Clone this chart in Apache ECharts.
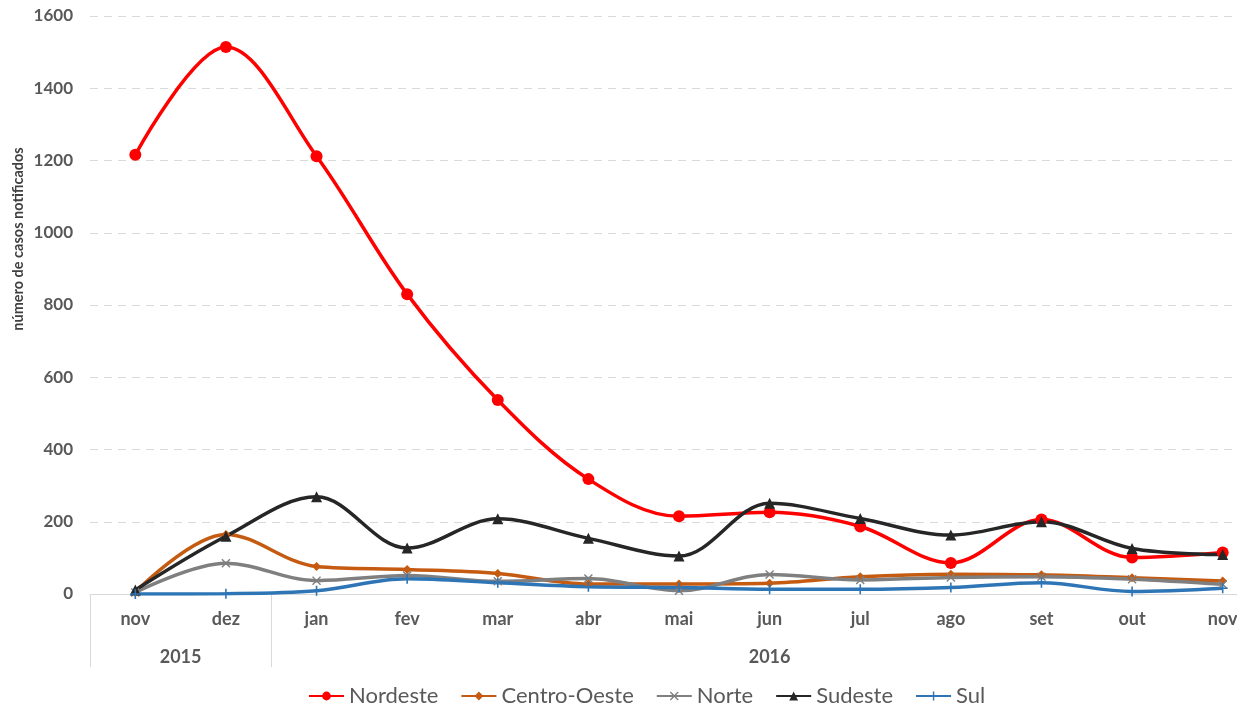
<!DOCTYPE html>
<html>
<head>
<meta charset="utf-8">
<script src="https://cdn.jsdelivr.net/npm/echarts@6/dist/echarts.min.js"></script>
<style>
  html, body { margin: 0; padding: 0; background: #ffffff; }
  #chart { width: 1237px; height: 705px; }
</style>
</head>
<body>
<div id="chart"></div>
<script>
  // meses notificados (nov/2015 a nov/2016)
  const months = ['nov', 'dez', 'jan', 'fev', 'mar', 'abr', 'mai', 'jun', 'jul', 'ago', 'set', 'out', 'nov']
  const years = ['2015', '2016']
  const monthsPerYear = [2, 11]

  const nordeste = [1216, 1514, 1212, 830, 537, 318, 215, 226, 187, 86, 206, 101, 115]
  const centroOeste = [5, 165, 76, 68, 57, 28, 28, 30, 48, 55, 53, 45, 36]
  const norte = [4, 85, 37, 51, 35, 43, 9, 54, 39, 46, 48, 41, 27]
  const sudeste = [11, 160, 269, 127, 208, 154, 105, 251, 209, 163, 200, 126, 109]
  const sul = [0, 1, 9, 42, 31, 20, 18, 13, 13, 18, 31, 7, 16]

  const yTicks = { min: 0, max: 1600, interval: 200 }

  // eixo de anos: meia-divisao por ponto, rotulo no centro de cada ano
  const yearAxisData = new Array(months.length * 2 + 1).fill('')
  const yearBoundaries = [0]
  let start = 0
  years.forEach((y, i) => {
    const end = start + monthsPerYear[i] * 2
    yearAxisData[(start + end) / 2] = y
    yearBoundaries.push(end)
    start = end
  })

  const textColor = '#595959'
  const gridColor = '#d9d9d9'
  const font = 'Lato, "Open Sans", sans-serif'

  const crossPath = 'path://M4.2,0H5.8V4.2H10V5.8H5.8V10H4.2V5.8H0V4.2H4.2Z'
  const xPath = 'path://M1.1,0L5,3.9L8.9,0L10,1.1L6.1,5L10,8.9L8.9,10L5,6.1L1.1,10L0,8.9L3.9,5L0,1.1Z'

  function makeSeries(name, data, color, symbol, symbolSize) {
    return {
      name,
      type: 'line',
      data,
      smooth: 0.35,
      symbol,
      symbolSize,
      showSymbol: true,
      lineStyle: { color, width: 3.5 },
      itemStyle: { color, borderColor: color, borderWidth: 0 },
      emphasis: { disabled: true }
    }
  }

  const chart = echarts.init(document.getElementById('chart'))

  chart.setOption({
    animation: false,
    textStyle: { fontFamily: font },
    grid: { left: 90, top: 16, bottom: 111, right: -31, outerBoundsMode: 'none' },
    legend: {
      bottom: -7,
      left: 303,
      itemWidth: 35,
      itemHeight: 11,
      itemGap: 22,
      textStyle: { color: textColor, fontSize: 22, fontFamily: font },
      data: ['Nordeste', 'Centro-Oeste', 'Norte', 'Sudeste', 'Sul']
    },
    graphic: [{
      type: 'text',
      x: 18,
      y: 239,
      rotation: Math.PI / 2,
      style: {
        text: 'número de casos notificados',
        fill: '#404040',
        font: 'bold 14.5px ' + font,
        align: 'center',
        verticalAlign: 'middle'
      }
    }],
    xAxis: [
      {
        type: 'category',
        data: months,
        boundaryGap: true,
        axisLine: { lineStyle: { color: gridColor, width: 1 } },
        axisTick: { show: false },
        axisLabel: { color: textColor, fontSize: 18, fontWeight: 'bold', margin: 16, interval: 0 },
        splitLine: { show: false }
      },
      {
        type: 'category',
        data: yearAxisData,
        boundaryGap: false,
        position: 'bottom',
        offset: 0,
        axisLine: { show: false },
        axisTick: {
          show: true,
          length: 73,
          interval: (i) => yearBoundaries.includes(i),
          lineStyle: { color: gridColor, width: 1 }
        },
        axisLabel: { color: textColor, fontSize: 18, fontWeight: 'bold', margin: 54, interval: 0 },
        splitLine: { show: false }
      }
    ],
    yAxis: {
      type: 'value',
      min: yTicks.min,
      max: yTicks.max,
      interval: yTicks.interval,
      axisLine: { show: false },
      axisTick: { show: false },
      axisLabel: { color: textColor, fontSize: 17, fontWeight: 'bold', margin: 17, formatter: (v) => String(v) },
      splitLine: { lineStyle: { color: gridColor, type: [8, 6], width: 1 } }
    },
    series: [
      makeSeries('Nordeste', nordeste, '#ff0000', 'circle', 12),
      makeSeries('Centro-Oeste', centroOeste, '#c55a11', 'diamond', 9),
      makeSeries('Norte', norte, '#7f7f7f', xPath, 9),
      makeSeries('Sudeste', sudeste, '#262626', 'triangle', 11),
      makeSeries('Sul', sul, '#2e75b6', crossPath, 10)
    ]
  })
</script>
</body>
</html>
